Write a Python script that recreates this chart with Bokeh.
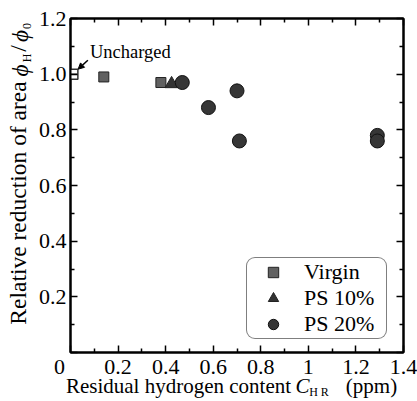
from bokeh.plotting import figure
from bokeh.models import (LinearAxis, FixedTicker, CustomJSTickFormatter, Label,
                          Arrow, NormalHead, Legend, LegendItem, Range1d)
from bokeh.embed import file_html
from bokeh.resources import INLINE

# ---- data ----
uncharged_x = [0.01]
uncharged_y = [1.0]
virgin_x = [0.14, 0.38]
virgin_y = [0.99, 0.97]
ps10_x = [0.425]
ps10_y = [0.965]
ps20_x = [0.47, 0.58, 0.70, 0.71, 1.29, 1.29]
ps20_y = [0.97, 0.88, 0.94, 0.76, 0.78, 0.76]

x_ticks = [0.0, 0.2, 0.4, 0.6, 0.8, 1.0, 1.2, 1.4]
x_tick_labels = ["0\u00a0\u00a0\u00a0\u00a0", "0.2", "0.4", "0.6", "0.8", "1", "1.2", "1.4"]
x_minor = [0.1, 0.3, 0.5, 0.7, 0.9, 1.1, 1.3]
y_ticks = [0.0, 0.2, 0.4, 0.6, 0.8, 1.0, 1.2]
y_tick_labels = ["", "0.2", "0.4", "0.6", "0.8", "1.0", "1.2"]
y_minor = [0.1, 0.3, 0.5, 0.7, 0.9, 1.1]

legend_labels = ["Virgin", "PS 10%", "PS 20%"]

FONT = "Liberation Serif"

p = figure(width=417, height=401, x_range=Range1d(0, 1.4), y_range=Range1d(0, 1.2),
           output_backend="svg", toolbar_location=None,
           min_border_left=70, min_border_right=14, min_border_top=18, min_border_bottom=49)
p.xgrid.visible = False
p.ygrid.visible = False
p.outline_line_color = "black"
p.outline_line_width = 2
p.background_fill_color = "white"
p.border_fill_color = "white"
# pixel ranges over the frame, used only to place the axis-title pieces
p.extra_x_ranges = {"px": Range1d(0, 333)}
p.extra_y_ranges = {"py": Range1d(0, 334)}

fmt_js = """
for (let i = 0; i < tvals.length; i++) {
  if (Math.abs(tvals[i] - tick) < 1e-6) return tlabels[i];
}
return "";
"""

def style_axis(ax, ticks, minor, labels=None, standoff=4):
    ax.ticker = FixedTicker(ticks=ticks, minor_ticks=minor)
    ax.axis_line_width = 2
    ax.axis_line_color = "black"
    ax.major_tick_in = 7
    ax.major_tick_out = 0
    ax.minor_tick_in = 4
    ax.minor_tick_out = 0
    ax.major_tick_line_width = 1.5
    ax.minor_tick_line_width = 1.5
    ax.major_tick_line_color = "black"
    ax.minor_tick_line_color = "black"
    if labels is None:
        ax.formatter = CustomJSTickFormatter(code="return '';")
        ax.major_label_text_font_size = "1px"
        ax.major_label_standoff = 0
    else:
        ax.formatter = CustomJSTickFormatter(args=dict(tvals=ticks, tlabels=labels), code=fmt_js)
        ax.major_label_text_font = FONT
        ax.major_label_text_font_size = "22px"
        ax.major_label_text_color = "black"
        ax.major_label_standoff = standoff

style_axis(p.xaxis[0], x_ticks, x_minor, x_tick_labels, standoff=1)
style_axis(p.yaxis[0], y_ticks, y_minor, y_tick_labels, standoff=4)
top = LinearAxis()
right = LinearAxis()
style_axis(top, x_ticks, x_minor)
style_axis(right, y_ticks, y_minor)
p.add_layout(top, "above")
p.add_layout(right, "right")

# ---- axis titles: pieces drawn as tick labels of bare helper axes ----
def title_axis(side, pos, texts, size, style, standoff):
    if side == "below":
        ax = LinearAxis(x_range_name="px")
    else:
        ax = LinearAxis(y_range_name="py")
        ax.major_label_orientation = "vertical"
    ax.ticker = FixedTicker(ticks=pos, minor_ticks=[])
    ax.formatter = CustomJSTickFormatter(args=dict(tvals=pos, tlabels=texts), code=fmt_js)
    ax.axis_line_color = None
    ax.major_tick_line_color = None
    ax.minor_tick_line_color = None
    ax.major_tick_in = 0
    ax.major_tick_out = 0
    ax.minor_tick_in = 0
    ax.minor_tick_out = 0
    ax.major_label_text_font = FONT
    ax.major_label_text_font_size = size
    ax.major_label_text_font_style = style
    ax.major_label_text_color = "black"
    ax.major_label_standoff = standoff
    p.add_layout(ax, side)

# x title: "Residual hydrogen content C_HR (ppm)"
title_axis("below", [108, 301], ["Residual hydrogen content", "(ppm)"], "21px", "normal", -8)
title_axis("below", [232], ["C"], "21px", "italic", -27)
title_axis("below", [248.5], ["H R"], "12px", "normal", -16)

# y title: "Relative reduction of area phi_H/phi_0"
title_axis("left", [294.5, 326.5], ["H", "0"], "12px", "normal", 2)
title_axis("left", [149.5, 304], ["Relative reduction of area", "/"], "23.5px", "normal", -14)
title_axis("left", [282, 316.5], ["ϕ", "ϕ"], "23.5px", "italic", -31)

# ---- glyphs ----
p.scatter(uncharged_x, uncharged_y, marker="square", size=10, fill_color="white",
          line_color="#333333", line_width=1.5)
p.scatter(uncharged_x, uncharged_y, marker="dash", size=9, line_color="#333333", line_width=1.5)

r_v = p.scatter(virgin_x, virgin_y, marker="square", size=10, fill_color="#616161",
                line_color="#222222", line_width=1)
r_10 = p.scatter(ps10_x, ps10_y, marker="triangle", size=13, fill_color="#333333",
                 line_color="#222222", line_width=1)
r_20 = p.scatter(ps20_x, ps20_y, marker="circle", size=14, fill_color="#363636",
                 line_color="#111111", line_width=1)

legend = Legend(items=[LegendItem(label=legend_labels[0], renderers=[r_v]),
                       LegendItem(label=legend_labels[1], renderers=[r_10]),
                       LegendItem(label=legend_labels[2], renderers=[r_20])],
                location=(176, 13))
legend.label_text_font = FONT
legend.label_text_font_size = "22px"
legend.label_text_line_height = 1.0
legend.label_text_color = "black"
legend.border_line_color = "black"
legend.border_line_width = 1.5
legend.border_radius = 9
legend.padding = 1
legend.margin = 0
legend.spacing = 0
legend.glyph_width = 50
legend.glyph_height = 26
legend.label_standoff = 6
legend.label_width = 81
legend.label_height = 26
legend.background_fill_alpha = 1
p.add_layout(legend, "center")

# ---- annotation "Uncharged" ----
ux, uy = uncharged_x[0], uncharged_y[0]
p.add_layout(Label(x=ux + 0.072, y=uy + 0.045, text="Uncharged", text_font=FONT,
                   text_font_size="18.5px", text_color="black", text_baseline="bottom"))
p.add_layout(Arrow(x_start=ux + 0.063, y_start=uy + 0.05, x_end=ux + 0.022, y_end=uy + 0.018,
                   line_width=1.5, line_color="black",
                   end=NormalHead(size=6, fill_color="black", line_color="black")))

open("out.html", "w").write(file_html(p, INLINE))
